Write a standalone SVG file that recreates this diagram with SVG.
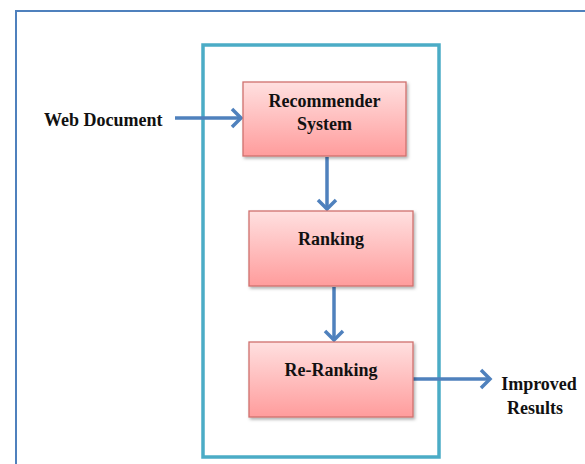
<svg xmlns="http://www.w3.org/2000/svg" width="585" height="464" viewBox="0 0 585 464">
<defs>
<linearGradient id="g" x1="0" y1="0" x2="0" y2="1">
<stop offset="0" stop-color="#FFE0E0"/>
<stop offset="1" stop-color="#FF9C9C"/>
</linearGradient>
<filter id="sh" x="-10%" y="-10%" width="130%" height="130%">
<feDropShadow dx="1.5" dy="2" stdDeviation="1.5" flood-color="#000" flood-opacity="0.3"/>
</filter>
<marker id="ah" markerWidth="20" markerHeight="24" refX="12" refY="12" orient="auto" markerUnits="userSpaceOnUse">
<path d="M3,3 L12,12 L3,21" fill="none" stroke="#4F81BD" stroke-width="3.5"/>
</marker>
</defs>
<style>
.box{fill:url(#g);stroke:#D0706E;stroke-width:1.3;filter:url(#sh)}
.t{font-family:"Liberation Serif","Times New Roman",serif;font-weight:bold;font-size:18px;fill:#111}
.c{stroke:#4F81BD;stroke-width:3.5;fill:none;marker-end:url(#ah)}
</style>
<rect width="585" height="464" fill="#fff"/>
<path d="M16,464 V11 H585" fill="none" stroke="#4F81BD" stroke-width="2"/>
<rect id="container" x="203" y="45" width="236" height="412" fill="none" stroke="#4BACC6" stroke-width="3.5"/>
<g id="connectors">
<line class="c" x1="175" y1="118" x2="241" y2="118"/>
<line class="c" x1="327" y1="157" x2="327" y2="209"/>
<line class="c" x1="334" y1="287" x2="334" y2="340"/>
<line class="c" x1="413" y1="379" x2="490" y2="379"/>
</g>
<g id="web-document"><text class="t" x="44" y="126" font-family="Liberation Serif">Web Document</text></g>
<g id="recommender">
<rect class="box" x="243" y="82" width="163" height="74"/>
<text class="t" x="324.5" y="107" text-anchor="middle">Recommender</text>
<text class="t" x="324.5" y="130" text-anchor="middle">System</text>
</g>
<g id="ranking">
<rect class="box" x="249" y="211" width="164" height="75"/>
<text class="t" x="331" y="245" text-anchor="middle">Ranking</text>
</g>
<g id="re-ranking">
<rect class="box" x="249" y="342" width="164" height="75"/>
<text class="t" x="331" y="376" text-anchor="middle">Re-Ranking</text>
</g>
<g id="improved-results">
<text class="t" x="539" y="390" text-anchor="middle">Improved</text>
<text class="t" x="535" y="414" text-anchor="middle">Results</text>
</g>
</svg>
